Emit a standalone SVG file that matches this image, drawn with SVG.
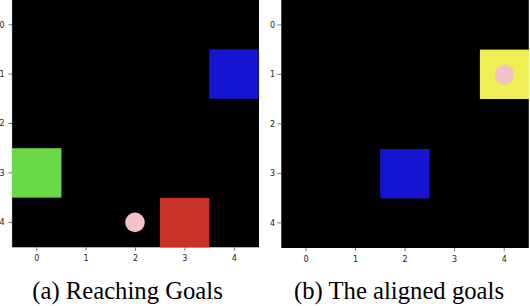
<svg xmlns="http://www.w3.org/2000/svg" width="530" height="306" viewBox="0 0 530 306">
<style>
.bg{fill:#000000}
.tick{stroke:#555555;stroke-width:0.8}
.tl{font-family:'DejaVu Sans',sans-serif;font-size:8px;fill:#222222}
.yl{text-anchor:end}
.xl{text-anchor:middle}
.cap{font-family:'Liberation Serif','DejaVu Serif',serif;font-size:24.7px;fill:#000000;text-anchor:middle}
.spine{stroke:#cfcfcf;stroke-width:0.6}
</style>
<rect width="530" height="306" fill="#ffffff"/>
<g id="panel-a">
  <rect class="bg" x="12" y="0" width="247" height="247.3"/>
  <line class="spine" x1="11.8" y1="0" x2="11.8" y2="247.3"/>
  <g id="a-blue-goal"><rect x="209.2" y="49.4" width="49.4" height="49.4" fill="#1414d2"/></g>
  <g id="a-green-goal"><rect x="12" y="148.2" width="49.4" height="49.4" fill="#6ad948"/></g>
  <g id="a-red-goal"><rect x="160" y="197.9" width="49.4" height="49.4" fill="#c83227"/></g>
  <g id="a-agent"><circle cx="135" cy="222.4" r="9.8" fill="#f4c1cb"/></g>
  <g id="a-yticks">
    <line class="tick" x1="8.5" y1="24.7" x2="12" y2="24.7"/>
    <line class="tick" x1="8.5" y1="74.1" x2="12" y2="74.1"/>
    <line class="tick" x1="8.5" y1="123.5" x2="12" y2="123.5"/>
    <line class="tick" x1="8.5" y1="172.9" x2="12" y2="172.9"/>
    <line class="tick" x1="8.5" y1="222.4" x2="12" y2="222.4"/>
    <text class="tl yl" x="4.5" y="27.6">0</text>
    <text class="tl yl" x="4.5" y="77">1</text>
    <text class="tl yl" x="4.5" y="126.4">2</text>
    <text class="tl yl" x="4.5" y="175.8">3</text>
    <text class="tl yl" x="4.5" y="225.3">4</text>
  </g>
  <g id="a-xticks">
    <line class="tick" x1="36.7" y1="247.3" x2="36.7" y2="250.8"/>
    <line class="tick" x1="86.1" y1="247.3" x2="86.1" y2="250.8"/>
    <line class="tick" x1="135.5" y1="247.3" x2="135.5" y2="250.8"/>
    <line class="tick" x1="184.9" y1="247.3" x2="184.9" y2="250.8"/>
    <line class="tick" x1="234.3" y1="247.3" x2="234.3" y2="250.8"/>
    <text class="tl xl" x="36.7" y="261">0</text>
    <text class="tl xl" x="86.1" y="261">1</text>
    <text class="tl xl" x="135.5" y="261">2</text>
    <text class="tl xl" x="184.9" y="261">3</text>
    <text class="tl xl" x="234.3" y="261">4</text>
  </g>
  <text class="cap" x="127.5" y="299" font-family="'Liberation Serif', 'DejaVu Serif', serif">(a) Reaching Goals</text>
</g>
<g id="panel-b">
  <rect class="bg" x="281.3" y="0" width="247.5" height="248"/>
  <g id="b-yellow-goal"><rect x="479.9" y="49.6" width="49.4" height="49.4" fill="#f0ee55"/></g>
  <g id="b-agent"><circle cx="504.4" cy="74.6" r="9.8" fill="#f4c1cb"/></g>
  <g id="b-blue-goal"><rect x="380.2" y="149" width="49.4" height="49.4" fill="#1414d2"/></g>
  <g id="b-yticks">
    <line class="tick" x1="277.3" y1="24.9" x2="281" y2="24.9"/>
    <line class="tick" x1="277.3" y1="74.4" x2="281" y2="74.4"/>
    <line class="tick" x1="277.3" y1="123.9" x2="281" y2="123.9"/>
    <line class="tick" x1="277.3" y1="173.4" x2="281" y2="173.4"/>
    <line class="tick" x1="277.3" y1="222.9" x2="281" y2="222.9"/>
    <text class="tl yl" x="275" y="27.8">0</text>
    <text class="tl yl" x="275" y="77.3">1</text>
    <text class="tl yl" x="275" y="126.8">2</text>
    <text class="tl yl" x="275" y="176.3">3</text>
    <text class="tl yl" x="275" y="225.8">4</text>
  </g>
  <g id="b-xticks">
    <line class="tick" x1="306" y1="248" x2="306" y2="251.3"/>
    <line class="tick" x1="355.5" y1="248" x2="355.5" y2="251.3"/>
    <line class="tick" x1="405" y1="248" x2="405" y2="251.3"/>
    <line class="tick" x1="454.6" y1="248" x2="454.6" y2="251.3"/>
    <line class="tick" x1="504.2" y1="248" x2="504.2" y2="251.3"/>
    <text class="tl xl" x="306" y="261.5">0</text>
    <text class="tl xl" x="355.5" y="261.5">1</text>
    <text class="tl xl" x="405" y="261.5">2</text>
    <text class="tl xl" x="454.6" y="261.5">3</text>
    <text class="tl xl" x="504.2" y="261.5">4</text>
  </g>
  <text class="cap" x="399" y="299" font-family="'Liberation Serif', 'DejaVu Serif', serif">(b) The aligned goals</text>
</g>
</svg>
